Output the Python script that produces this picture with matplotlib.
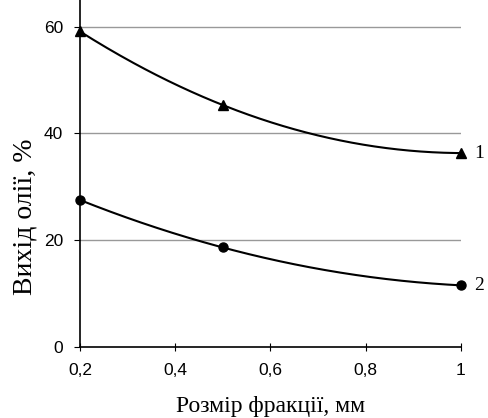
import numpy as np
import matplotlib.pyplot as plt

# розмір фракції, мм
x = [0.2, 0.5, 1.0]
# вихід олії, %
y1 = [59.1, 45.3, 36.3]
y2 = [27.5, 18.6, 11.5]
xticks = [0.2, 0.4, 0.6, 0.8, 1.0]
xticklabels = ["0,2", "0,4", "0,6", "0,8", "1"]
yticks = [0, 20, 40, 60]

fig = plt.figure(figsize=(4.89, 4.18), dpi=100)
ax = fig.add_axes([0.1636, 0.1706, 0.779, 0.8294])

xs = np.linspace(0.2, 1.0, 200)
for ys, mk, ms, lab in [(y1, "^", 7, "1"), (y2, "o", 6.5, "2")]:
        c = np.polyfit(x, ys, 2)
        ax.plot(xs, np.polyval(c, xs), color="black", lw=1.5, clip_on=False, zorder=3)
        ax.plot(x, ys, marker=mk, ms=ms, color="black", linestyle="", clip_on=False, zorder=4)
        ax.text(1.028, ys[-1], lab, fontsize=14, family="Liberation Serif", va="center", ha="left")

ax.set_xlim(0.2, 1.0)
ax.set_ylim(0, 65)
ax.set_xticks(xticks)
ax.set_xticklabels(xticklabels)
ax.set_yticks(yticks)
for s in [20, 40, 60]:
        ax.plot([0.2, 1.0], [s, s], color="#999999", lw=1, zorder=1)

for s in ["top", "right"]:
        ax.spines[s].set_visible(False)
for s in ["left", "bottom"]:
        ax.spines[s].set_linewidth(1.2)
ax.tick_params(axis="x", direction="inout", length=6, labelsize=12.5, pad=9)
ax.tick_params(axis="y", direction="out", length=4, labelsize=12.5, pad=8)
for t in ax.get_xticklabels() + ax.get_yticklabels():
        t.set_family("Liberation Sans")

ax.set_xlabel("Розмір фракції, мм", fontsize=17, family="Liberation Serif", labelpad=13)
ax.set_ylabel("Вихід олії, %", fontsize=20, family="Liberation Serif")
ax.yaxis.set_label_coords(-0.111, 0.374)

fig.savefig("out.png", dpi=100)
